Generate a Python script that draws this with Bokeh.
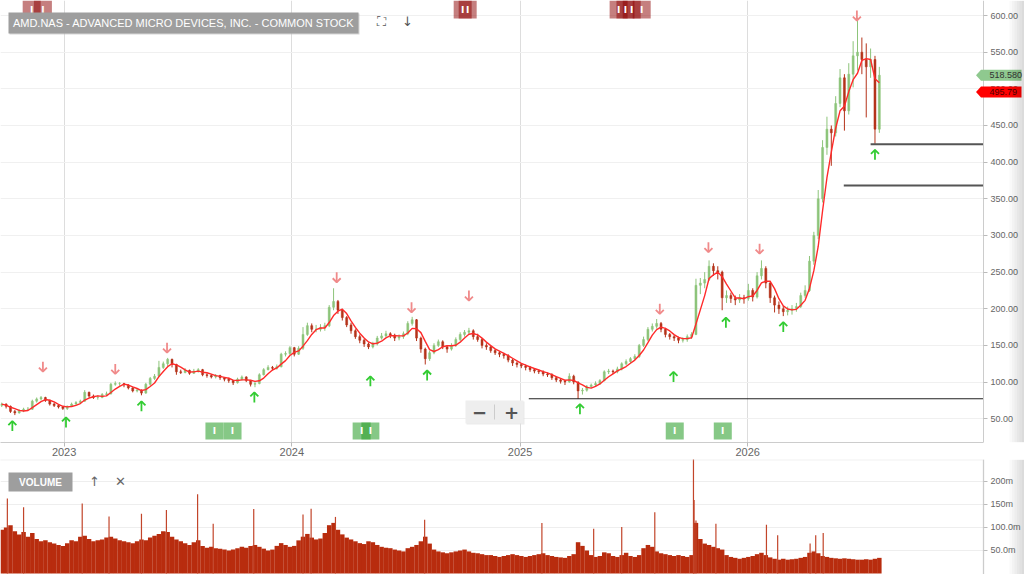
import pandas as pd
from bokeh.plotting import figure
from bokeh.models import (ColumnDataSource, FixedTicker, NumeralTickFormatter, Label,
                          Range1d, DatetimeTickFormatter, PolyAnnotation, BoxAnnotation)
from bokeh.layouts import column
from bokeh.embed import file_html
from bokeh.resources import INLINE
from bokeh.core.properties import value

# ------------------------------------------------------------------ data
title_text = "AMD.NAS - ADVANCED MICRO DEVICES, INC. - COMMON STOCK"
first_week = "2022-09-23"          # weekly bars (Friday close)
first_open = 68

close = [70, 67, 60, 58, 61, 63, 63, 74, 77, 79,
         75, 70, 68, 66, 64, 67, 70, 72, 74, 86,
         81, 79, 79, 83, 84, 97, 98, 98, 96, 92,
         88, 89, 85, 97, 105, 108, 120, 125, 131, 124,
         114, 113, 116, 112, 115, 117, 110, 109, 107, 109,
         106, 104, 102, 99, 104, 107, 102, 97, 98, 110,
         117, 120, 119, 121, 138, 139, 147, 138, 146, 165,
         177, 172, 172, 174, 177, 202, 210, 198, 188, 178,
         170, 162, 157, 152, 148, 152, 160, 163, 166, 164,
         160, 162, 166, 180, 185, 160, 145, 132, 140, 150,
         155, 148, 145, 150, 158, 165, 168, 170, 162, 158,
         150, 148, 143, 140, 138, 136, 130, 126, 124, 122,
         120, 117, 115, 114, 111, 110, 106, 103, 101, 100,
         108, 100, 88, 89, 94, 96, 98, 102, 114, 115,
         114, 118, 125, 128, 132, 135, 150, 158, 172, 176,
         180, 172, 165, 162, 160, 157, 158, 162, 165, 232,
         235, 240, 258, 252, 250, 215, 218, 214, 212, 215,
         214, 225, 216, 245, 255, 235, 215, 205, 200, 196,
         198, 200, 203, 218, 225, 265, 300, 350, 420, 445,
         440, 480, 515, 470, 520, 545, 550, 540, 530, 540,
         445, 518.58]

high = [72, 71, 68, 62, 63, 65, 66, 76, 79, 81,
        80, 76, 72, 69, 67, 68, 72, 74, 76, 89,
        87, 83, 82, 85, 87, 99, 101, 100, 99, 97,
        93, 91, 90, 99, 107, 111, 129, 128, 133, 132,
        125, 117, 119, 117, 118, 119, 118, 112, 111, 111,
        110, 107, 106, 103, 106, 109, 108, 103, 100, 112,
        119, 123, 122, 124, 140, 142, 149, 148, 149, 175,
        181, 180, 178, 179, 181, 205, 228, 212, 200, 190,
        181, 172, 165, 159, 154, 155, 163, 167, 170, 168,
        166, 165, 169, 183, 189, 186, 162, 147, 143, 153,
        158, 157, 150, 153, 161, 168, 171, 174, 172, 166,
        160, 153, 150, 145, 142, 140, 138, 132, 128, 126,
        124, 122, 119, 117, 116, 113, 112, 108, 105, 103,
        112, 110, 101, 92, 96, 98, 101, 104, 116, 118,
        117, 121, 127, 131, 134, 138, 152, 162, 175, 180,
        186, 182, 174, 167, 164, 162, 161, 165, 168, 241,
        242, 250, 266, 262, 258, 252, 225, 222, 218, 220,
        219, 234, 228, 250, 266, 258, 238, 218, 210, 204,
        203, 205, 208, 222, 232, 272, 305, 362, 430, 462,
        450, 490, 527, 520, 535, 565, 597, 570, 562, 555,
        545, 530]

low = [66, 64, 58, 55, 57, 59, 61, 62, 72, 75,
       73, 68, 66, 64, 62, 62, 66, 69, 71, 73,
       79, 77, 76, 78, 81, 83, 95, 95, 93, 90,
       86, 86, 82, 84, 95, 103, 107, 118, 122, 120,
       110, 111, 112, 110, 111, 113, 108, 106, 105, 105,
       103, 101, 99, 96, 98, 102, 100, 94, 93, 97,
       109, 116, 116, 117, 120, 135, 137, 135, 137, 144,
       163, 168, 168, 169, 170, 175, 198, 193, 184, 175,
       166, 159, 153, 148, 145, 146, 150, 158, 161, 160,
       156, 157, 159, 164, 177, 156, 140, 124, 129, 138,
       148, 145, 140, 143, 148, 156, 162, 165, 158, 155,
       146, 144, 140, 137, 134, 132, 127, 122, 120, 119,
       116, 114, 112, 111, 108, 107, 103, 100, 98, 96,
       99, 97, 77, 83, 87, 92, 94, 96, 101, 111,
       111, 112, 116, 123, 126, 130, 133, 148, 156, 169,
       173, 168, 161, 158, 156, 153, 154, 155, 159, 164,
       220, 228, 238, 245, 240, 198, 208, 208, 205, 208,
       207, 211, 210, 214, 240, 228, 208, 195, 193, 190,
       191, 192, 196, 201, 215, 223, 260, 295, 345, 410,
       395, 435, 475, 443, 465, 502, 525, 520, 461, 515,
       425, 440]

# typical daily volume per week, millions
volume_m = [95, 100, 105, 92, 85, 90, 80, 88, 75, 70,
            72, 68, 65, 62, 60, 66, 72, 70, 80, 82,
            75, 70, 72, 74, 78, 80, 76, 72, 70, 68,
            66, 70, 74, 72, 78, 82, 86, 92, 90, 80,
            74, 70, 66, 62, 68, 72, 60, 56, 58, 55,
            54, 52, 50, 52, 55, 58, 56, 60, 62, 58,
            54, 50, 52, 60, 66, 62, 58, 60, 72, 80,
            86, 78, 74, 76, 88, 105, 110, 95, 85, 78,
            74, 70, 66, 64, 70, 68, 62, 58, 56, 55,
            52, 50, 48, 55, 58, 62, 70, 80, 65, 52,
            48, 46, 44, 46, 48, 50, 52, 48, 45, 44,
            42, 40, 40, 38, 36, 38, 40, 42, 40, 38,
            36, 38, 40, 42, 44, 40, 38, 36, 35, 34,
            38, 42, 68, 60, 50, 40, 36, 38, 46, 44,
            38, 36, 40, 45, 38, 36, 40, 55, 62, 58,
            48, 44, 42, 40, 38, 40, 38, 36, 40, 110,
            75, 65, 62, 58, 55, 52, 40, 36, 34, 32,
            34, 36, 38, 42, 45, 40, 35, 32, 30, 32,
            30, 31, 32, 34, 36, 45, 48, 44, 38, 36,
            34, 33, 32, 33, 32, 31, 30, 30, 31, 30,
            32, 34]

# single-day volume spikes, millions
spike_dates = ["2022-10-02", "2022-10-28", "2023-01-30", "2023-03-14", "2023-05-05",
               "2023-06-14", "2023-08-03", "2023-08-28", "2023-11-01", "2024-01-19",
               "2024-02-01", "2024-03-11", "2024-08-01", "2025-02-05", "2025-04-29",
               "2025-06-13", "2025-08-05", "2025-10-06", "2025-10-07", "2025-10-10",
               "2025-11-11", "2026-01-31", "2026-02-18", "2026-04-11", "2026-04-20",
               "2026-05-02"]
spike_volume_m = [163, 144, 152, 124, 130, 138, 172, 108, 140, 128,
                  141, 123, 117, 110, 97, 101, 133, 250, 160, 115,
                  108, 106, 83, 65, 83, 88]

years = [2023, 2024, 2025, 2026]
price_ticks = [50, 100, 150, 200, 250, 300, 350, 400, 450, 500, 550, 600]
volume_ticks = [50, 100, 150, 200]
volume_tick_labels = ["50.0m", "100.0m", "150m", "200m"]

peak_dates = ["2022-11-28", "2023-03-24", "2023-06-15", "2024-03-13", "2024-07-11",
              "2024-10-11", "2025-08-13", "2025-10-30", "2026-01-20", "2026-06-25"]
peak_levels = [121, 118, 147, 243, 202, 218, 200, 284, 282, 600]
trough_dates = ["2022-10-10", "2023-01-04", "2023-05-05", "2023-11-02", "2024-05-06",
                "2024-08-05", "2025-04-07", "2025-09-04", "2025-11-27", "2026-02-27",
                "2026-07-24"]
trough_levels = [40, 45, 67, 79, 101, 109, 63, 107, 181, 175, 410]

support_start = ["2025-01-15", "2026-06-04", "2026-07-17"]
support_level = [77.3, 368.0, 424.5]

red_event_dates = ["2022-11-10", "2022-11-28", "2024-10-01", "2024-10-09",
                   "2025-06-08", "2025-06-19", "2025-06-29", "2025-07-15"]
green_event_dates = ["2023-08-30", "2023-09-28", "2024-04-22", "2024-05-06",
                     "2025-09-06", "2025-11-22"]

last_price = 518.58
last_price_text = "518.580"
ma_value = 495.79
ma_text = "495.79"

# ------------------------------------------------------------------ geometry
W, H_PRICE, H_VOL = 1024, 459, 115
PLOT_W, FRAME_H = 983, 442           # data area width (axis sits at x=983)
X_START, X_END = pd.Timestamp("2022-09-21"), pd.Timestamp("2027-01-14")
P_BOT, P_TOP = 17.6, 620.5
V_BOT, V_TOP = -2.2, 247.8
DAY = 86400000.0


def ms(ts):
    return pd.Timestamp(ts).value / 1e6


PX_X = (ms(X_END) - ms(X_START)) / PLOT_W     # ms per pixel
PX_Y = (P_TOP - P_BOT) / FRAME_H              # price per pixel


def sx(px):
    return ms(X_START) + PX_X * px


def sy(py):
    return P_TOP - PX_Y * py


def vy(py):
    return V_TOP - (V_TOP - V_BOT) * (py - 459) / H_VOL


X_AXIS_AT = sx(PLOT_W)
FONT = "Liberation Sans"
GRAY_TXT = "#666666"


def style_yaxis(ax):
    ax.fixed_location = X_AXIS_AT
    ax.axis_line_color = "#cccccc"
    ax.major_tick_line_color = "#bbbbbb"
    ax.major_tick_in = 0
    ax.major_tick_out = 4
    ax.minor_tick_line_color = None
    ax.major_label_text_color = GRAY_TXT
    ax.major_label_text_font = FONT
    ax.major_label_text_font_size = "9px"
    ax.major_label_standoff = 3


def right_edge(fig, top, bot):
    # white strip behind the axis labels (hides grid lines there)
    fig.add_layout(BoxAnnotation(left=X_AXIS_AT, right=sx(W + 5), top=top, bottom=bot,
                                 fill_color="white", fill_alpha=1.0, line_color=None,
                                 level="underlay"))


def right_shadow(fig, top, bot):
    for i in range(6):
        fig.add_layout(BoxAnnotation(left=sx(1009 + 2.5 * i), right=sx(W + 5), top=top,
                                     bottom=bot, fill_color="#000000", fill_alpha=0.022,
                                     line_color=None))


# ------------------------------------------------------------------ price panel
p = figure(width=W, height=H_PRICE, x_axis_type="datetime",
           x_range=Range1d(ms(X_START), sx(W)), y_range=Range1d(P_BOT, P_TOP),
           y_axis_location="right", toolbar_location=None, output_backend="svg",
           min_border_left=0, min_border_top=0, min_border_right=0,
           min_border_bottom=H_PRICE - FRAME_H, outline_line_color=None,
           background_fill_color="white", border_fill_color="white")

year_ms = [ms(f"{y}-01-01") for y in years]
p.xaxis.ticker = FixedTicker(ticks=year_ms)
p.xaxis.formatter = DatetimeTickFormatter(years="%Y", months="%Y", days="%Y")
p.xaxis.bounds = (ms(X_START), X_AXIS_AT)
p.xaxis.axis_line_color = "#cccccc"
p.xaxis.major_tick_line_color = "#bbbbbb"
p.xaxis.major_tick_in = 0
p.xaxis.major_tick_out = 4
p.xaxis.minor_tick_line_color = None
p.xaxis.major_label_text_color = GRAY_TXT
p.xaxis.major_label_text_font = FONT
p.xaxis.major_label_text_font_size = "11px"
p.xaxis.major_label_standoff = 1
p.xgrid.ticker = FixedTicker(ticks=year_ms)
p.xgrid.grid_line_color = "#dddddd"
p.ygrid.grid_line_color = "#f0f0f0"
p.yaxis.ticker = FixedTicker(ticks=price_ticks)
p.yaxis.formatter = NumeralTickFormatter(format="0.00")
style_yaxis(p.yaxis[0])
right_edge(p, P_TOP, P_BOT)

dates = pd.date_range(first_week, periods=len(close), freq="7D")
opens = [first_open] + close[:-1]
colors = ["#8dc47a" if c >= o else "#b5331a" for o, c in zip(opens, close)]
src = ColumnDataSource(dict(x=dates, h=high, l=low,
                            top=[max(o, c) for o, c in zip(opens, close)],
                            bot=[min(o, c) for o, c in zip(opens, close)],
                            color=colors))
p.segment("x", "h", "x", "l", source=src, line_color="color", line_width=1)
p.vbar("x", width=3.2 * DAY, top="top", bottom="bot", source=src,
       fill_color="color", line_color="color", line_width=0.5)

ma = pd.Series(close).rolling(4, min_periods=1).mean()
p.line(dates, ma, line_color="#ff2a2a", line_width=1.4)

# support lines
p.segment(x0=pd.to_datetime(support_start), y0=support_level,
          x1=[X_AXIS_AT] * len(support_level), y1=support_level,
          line_color=["#222222", "#555555", "#555555"], line_width=[1.2, 2, 2])


# signal arrows (stem + open chevron head, sized in pixels)
def arrows(dates_, levels, direction, color):
    xs_ms = [ms(d) for d in dates_]
    half, head_w, head_h = 5.0, 4.0, 4.0
    tip = [lv - direction * half * PX_Y for lv in levels]
    tail = [lv + direction * half * PX_Y for lv in levels]
    p.segment(x0=xs_ms, y0=tail, x1=xs_ms, y1=tip, line_color=color, line_width=1.8)
    heads_x = [[x - head_w * PX_X, x, x + head_w * PX_X] for x in xs_ms]
    heads_y = [[t + direction * head_h * PX_Y, t, t + direction * head_h * PX_Y] for t in tip]
    p.multi_line(heads_x, heads_y, line_color=color, line_width=1.8)


arrows(peak_dates, peak_levels, 1, "#f08a8a")
arrows(trough_dates, trough_levels, -1, "#33cc33")

# event markers
p.rect(x=pd.to_datetime(red_event_dates), y=sy(9), width=18, height=18,
       width_units="screen", height_units="screen", fill_color="#8b0000",
       fill_alpha=0.5, line_color=None)
p.text(x=pd.to_datetime(red_event_dates), y=sy(9), text=["I"] * len(red_event_dates),
       text_color="white", text_font=value("DejaVu Sans"), text_font_size="9px",
       text_font_style="bold", text_align="center", text_baseline="middle")
p.rect(x=pd.to_datetime(green_event_dates), y=sy(430.5), width=18, height=17,
       width_units="screen", height_units="screen", fill_color="#2ea02e",
       fill_alpha=0.58, line_color=None)
p.text(x=pd.to_datetime(green_event_dates), y=sy(430.5), text=["I"] * len(green_event_dates),
       text_color="white", text_font=value("DejaVu Sans"), text_font_size="9px",
       text_font_style="bold", text_align="center", text_baseline="middle")

# title box + icons
p.rect(x=sx(184), y=sy(23.5), width=350, height=21, width_units="screen",
       height_units="screen", fill_color="#bbbbbb", fill_alpha=0.6, line_color=None)
p.rect(x=sx(183), y=sy(22.5), width=350, height=21, width_units="screen",
       height_units="screen", fill_color="#9e9e9e", line_color=None)
p.text(x=[sx(183)], y=[sy(22.5)], text=[title_text], text_color="white",
       text_font=value(FONT), text_font_size="11px", text_align="center",
       text_baseline="middle")
p.text(x=[sx(381), sx(407)], y=[sy(21), sy(21)], text=["⛶", "↓"], text_color="#555555",
       text_font=value("DejaVu Sans"), text_font_size="13px", text_align="center",
       text_baseline="middle")

# zoom control
p.rect(x=sx(495), y=sy(412.5), width=58, height=23, width_units="screen",
       height_units="screen", fill_color="#dddddd", fill_alpha=0.6, line_color=None)
p.rect(x=sx(494), y=sy(411.5), width=58, height=23, width_units="screen",
       height_units="screen", fill_color="#eeeeee", line_color=None)
p.segment(x0=[sx(494)], y0=[sy(404)], x1=[sx(494)], y1=[sy(419)], line_color="#cccccc")
p.text(x=[sx(479), sx(511)], y=[sy(411.5), sy(411.5)], text=["−", "+"],
       text_color="#555555", text_font=value("DejaVu Sans"), text_font_size="18px",
       text_font_style="bold", text_align="center", text_baseline="middle")

# price tags on the axis (pointed boxes)
for val, txt, bg, fg in ((last_price, last_price_text, "#8fc98f", "#333333"),
                         (ma_value, ma_text, "#ff0000", "#500000")):
    hh = 5.5 * PX_Y
    p.add_layout(PolyAnnotation(
        xs=[sx(975.5), sx(980.5), sx(1021), sx(1021), sx(980.5)],
        ys=[val, val + hh, val + hh, val - hh, val - hh],
        fill_color=bg, fill_alpha=1.0, line_color=None))
    p.add_layout(Label(x=sx(989), y=val, text=txt, text_color=fg, text_font=FONT,
                       text_font_size="9px", text_align="left", text_baseline="middle"))

right_shadow(p, P_TOP, P_BOT)

# ------------------------------------------------------------------ volume panel
v = figure(width=W, height=H_VOL, x_range=p.x_range, y_range=Range1d(V_BOT, V_TOP),
           x_axis_type="datetime", x_axis_location=None, y_axis_location="right",
           toolbar_location=None, output_backend="svg", min_border_left=0,
           min_border_top=0, min_border_bottom=0, min_border_right=0,
           outline_line_color=None, background_fill_color="white",
           border_fill_color="white")
v.xgrid.visible = False
v.ygrid.grid_line_color = "#eeeeee"
v.yaxis.ticker = FixedTicker(ticks=volume_ticks)
v.yaxis.major_label_overrides = dict(zip(volume_ticks, volume_tick_labels))
style_yaxis(v.yaxis[0])
right_edge(v, V_TOP, V_BOT)
# panel border (top edge)
v.add_layout(BoxAnnotation(left=sx(-5), right=X_AXIS_AT, top=V_TOP, bottom=V_BOT - 5,
                           fill_alpha=0, line_color="#cccccc", line_width=2))

v.vbar(x=dates, width=7.2 * DAY, top=volume_m, bottom=0, fill_color="#b82c0e",
       line_color=None)
v.segment(x0=pd.to_datetime(spike_dates), y0=[0] * len(spike_dates),
          x1=pd.to_datetime(spike_dates), y1=spike_volume_m,
          line_color="#c2452a", line_width=1.2)

v.rect(x=sx(40), y=vy(481.5), width=64, height=19, width_units="screen",
       height_units="screen", fill_color="#9e9e9e", line_color=None)
v.text(x=[sx(40)], y=[vy(481.5)], text=["VOLUME"], text_color="white",
       text_font=value(FONT), text_font_size="10px", text_font_style="bold",
       text_align="center", text_baseline="middle")
v.text(x=[sx(94), sx(120)], y=[vy(481), vy(481)], text=["↑", "✕"],
       text_color="#666666", text_font=value("DejaVu Sans"), text_font_size="13px",
       text_align="center", text_baseline="middle")

right_shadow(v, V_TOP, V_BOT)

layout = column(p, v, spacing=0)
open("out.html", "w").write(file_html(layout, INLINE))
